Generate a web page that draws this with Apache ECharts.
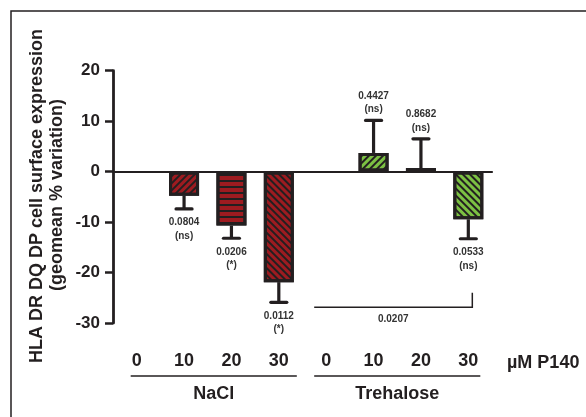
<!DOCTYPE html>
<html><head><meta charset="utf-8">
<script src="https://cdn.jsdelivr.net/npm/echarts@6/dist/echarts.min.js"></script>
<style>html,body{margin:0;padding:0;background:#fff}#c{width:586px;height:417px}</style>
</head><body><div id="c"></div>
<script>
// ---- data ----
const categories = ['0', '10', '20', '30', '0', '10', '20', '30'];
const groups = ['NaCl', 'Trehalose'];
const means = [0, -4.8, -10.7, -21.9, 0, 3.7, 0.7, -9.45];
const errors = [0, 2.6, 2.5, 4.0, 0, 6.45, 5.8, 3.85];
const pValues = ['', '0.0804', '0.0206', '0.0112', '', '0.4427', '0.8682', '0.0533'];
const signif = ['', 'ns', '*', '*', '', 'ns', 'ns', 'ns'];
const groupPValue = '0.0207';
const yMin = -30, yMax = 20, yStep = 10;
const unitLabel = 'µM P140';
const yTitle = ['HLA DR DQ DP cell surface expression', '(geomean % variation)'];

// ---- styles ----
const INK = '#231f20';
const FONT = '"Liberation Sans", Arial, sans-serif';
const groupFill = ['#9e1b20', '#7cc143'];
function hatch(kind) {
  const base = { symbol: 'rect', symbolSize: 1, symbolKeepAspect: false, dashArrayX: [1, 0], dashArrayY: [1.6, 2.6], color: INK };
  if (kind === 'up') return Object.assign({}, base, { rotation: -Math.PI / 4 });
  if (kind === 'down') return Object.assign({}, base, { rotation: Math.PI / 4 });
  return Object.assign({}, base, { dashArrayY: [1.8, 3.2], rotation: 0 });
}
const hatchByDose = [null, 'up', 'horiz', 'down'];

const barData = means.map((v, i) => {
  if (v === 0) return '-';
  return {
    value: v,
    itemStyle: {
      color: groupFill[Math.floor(i / 4)],
      borderColor: INK, borderWidth: 3,
      decal: hatch(hatchByDose[i % 4])
    }
  };
});
const errData = means.map((v, i) => v === 0 ? null : [i, v, v + Math.sign(v) * errors[i]]).filter(d => d);

const chart = echarts.init(document.getElementById('c'), null, { renderer: 'canvas' });
chart.setOption({
  animation: false,
  grid: { left: 113, right: 94, top: 70.7, bottom: 94 },
  xAxis: [
    { type: 'category', data: categories, axisLine: { onZero: true, lineStyle: { color: INK, width: 2.2 } },
      axisTick: { show: false }, axisLabel: { show: false }, splitLine: { show: false } },
    { type: 'category', data: categories, position: 'bottom', axisLine: { show: false, onZero: false },
      axisTick: { show: false }, splitLine: { show: false },
      axisLabel: { margin: 29, color: INK, fontSize: 18, fontWeight: 'bold', fontFamily: FONT } }
  ],
  yAxis: {
    type: 'value', min: yMin, max: yMax, interval: yStep,
    axisLine: { show: true, lineStyle: { color: INK, width: 2.8 } },
    axisTick: { show: true, length: 8, lineStyle: { color: INK, width: 2.5 } },
    splitLine: { show: false },
    axisLabel: { margin: 13, color: INK, fontSize: 17, fontWeight: 'bold', fontFamily: FONT }
  },
  series: [
    { type: 'bar', xAxisIndex: 0, data: barData, barWidth: 30, z: 2 },
    { type: 'custom', xAxisIndex: 0, data: errData, clip: false, z: 3,
      renderItem: function (params, api) {
        const i = api.value(0), m = api.value(1), e = api.value(2);
        const p0 = api.coord([i, m]), p1 = api.coord([i, e]);
        const up = e > m;
        return { type: 'group', children: [
          { type: 'line', shape: { x1: p0[0], y1: p0[1], x2: p1[0], y2: p1[1] }, style: { stroke: INK, lineWidth: 3.2 } },
          { type: 'line', shape: { x1: p1[0] - 8, y1: p1[1], x2: p1[0] + 8, y2: p1[1] }, style: { stroke: INK, lineWidth: 3.2, lineCap: 'round' } },
          { type: 'text', style: { text: pValues[i] + '\n(' + signif[i] + ')', x: p1[0], y: up ? p1[1] - 4 : p1[1] + 7,
              align: 'center', verticalAlign: up ? 'bottom' : 'top', fontSize: 10, fontWeight: 'bold', fontFamily: FONT,
              fill: '#333', lineHeight: 13.5 } }
        ] };
      }
    }
  ]
});

// ---- annotations positioned from the axes ----
const px = i => chart.convertToPixel({ xAxisIndex: 0 }, i);
const py = v => chart.convertToPixel({ yAxisIndex: 0 }, v);
const bracketY = py(-26.9), bracketTop = py(-24);
const bL = px(4) - 12, bR = px(7) + 4;
const u1 = [px(0) - 6, px(3) + 18], u2 = [px(4) - 12, px(7) + 12];
const underlineY = 376, groupLabelY = 394;
const textStyle = (t, x, y, size, align) => ({ text: t, x: x, y: y, align: align || 'center', verticalAlign: 'middle',
  fontSize: size, fontWeight: 'bold', fontFamily: FONT, fill: INK });
chart.setOption({
  graphic: [
    { type: 'rect', shape: { x: 11, y: 11, width: 600, height: 430 }, style: { fill: null, stroke: INK, lineWidth: 1.5 }, silent: true },
    { type: 'polyline', shape: { points: [[bL, bracketY], [bR, bracketY], [bR, bracketTop]] }, style: { stroke: INK, lineWidth: 1.5, fill: null } },
    { type: 'text', style: Object.assign(textStyle(groupPValue, (bL + bR) / 2, bracketY + 12, 10), { fill: '#333' }) },
    { type: 'line', shape: { x1: u1[0], y1: underlineY, x2: u1[1], y2: underlineY }, style: { stroke: INK, lineWidth: 1.5 } },
    { type: 'line', shape: { x1: u2[0], y1: underlineY, x2: u2[1], y2: underlineY }, style: { stroke: INK, lineWidth: 1.5 } },
    { type: 'text', style: textStyle(groups[0], (u1[0] + u1[1]) / 2, groupLabelY, 18) },
    { type: 'text', style: textStyle(groups[1], (u2[0] + u2[1]) / 2, groupLabelY, 18) },
    { type: 'text', style: textStyle(unitLabel, 507, 363, 18, 'left') },
    { type: 'text', rotation: Math.PI / 2, x: 37.5, y: 196, style: textStyle(yTitle[0], 0, 0, 18) },
    { type: 'text', rotation: Math.PI / 2, x: 57, y: 195, style: textStyle(yTitle[1], 0, 0, 18) }
  ]
});
</script></body></html>
